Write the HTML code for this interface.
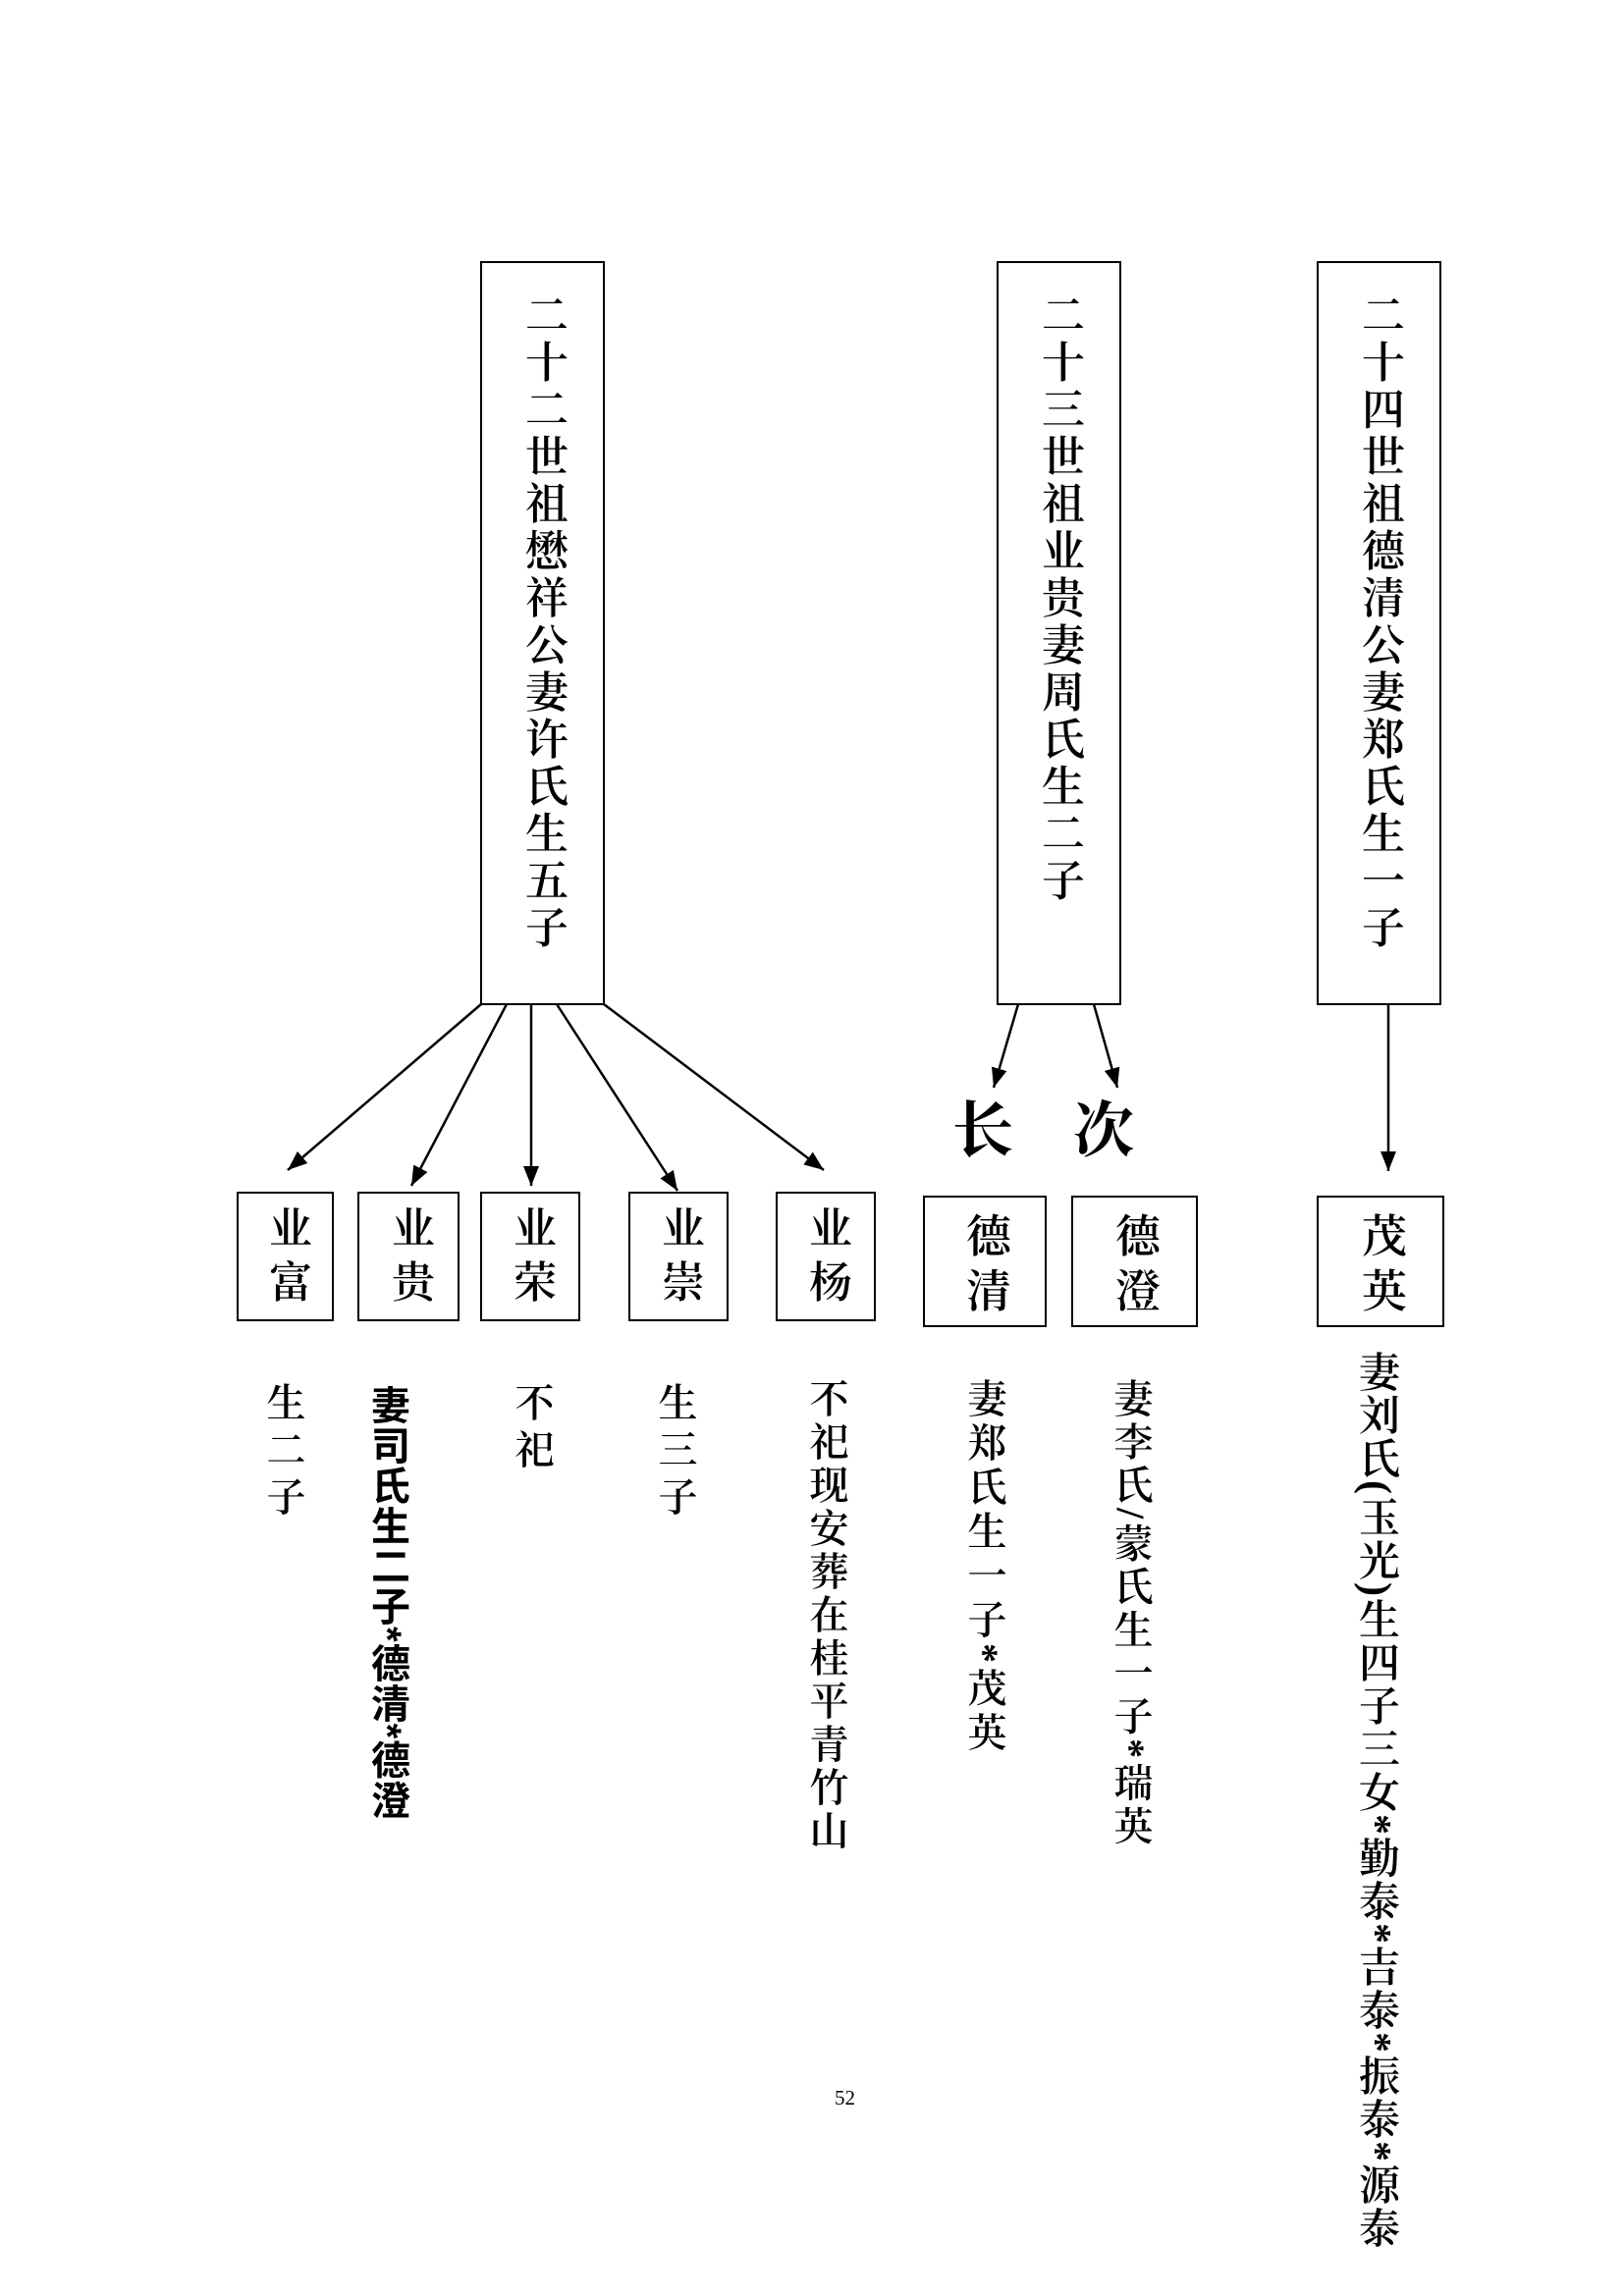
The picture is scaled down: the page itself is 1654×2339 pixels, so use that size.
<!DOCTYPE html>
<html><head><meta charset="utf-8"><style>
html,body{margin:0;padding:0;background:#fff;}
body{width:1654px;height:2339px;position:relative;overflow:hidden;}
.v{position:absolute;writing-mode:vertical-rl;font-family:"Liberation Serif","Noto Serif CJK SC",serif;color:#000;white-space:nowrap;line-height:1;font-weight:600;}
.h{position:absolute;font-family:"Liberation Serif","Noto Serif CJK SC",serif;color:#000;line-height:1;}
</style></head><body>
<svg width="1654" height="2339" style="position:absolute;left:0;top:0">
<defs><marker id="m1" markerWidth="24" markerHeight="24" refX="20" refY="8" orient="auto" markerUnits="userSpaceOnUse"><path d="M0,0 L20,8 L0,16 z" fill="#000"/></marker></defs>
<g fill="none" stroke="#000" stroke-width="2">
<rect x="490" y="267" width="125" height="756"/>
<rect x="1016" y="267" width="125" height="756"/>
<rect x="1342" y="267" width="125" height="756"/>
<rect x="242" y="1215" width="97" height="130"/>
<rect x="365" y="1215" width="102" height="130"/>
<rect x="490" y="1215" width="100" height="130"/>
<rect x="641" y="1215" width="100" height="130"/>
<rect x="791" y="1215" width="100" height="130"/>
<rect x="941" y="1219" width="124" height="132"/>
<rect x="1092" y="1219" width="127" height="132"/>
<rect x="1342" y="1219" width="128" height="132"/>
</g>
<g stroke="#000" stroke-width="2.5" marker-end="url(#m1)">
<line x1="490" y1="1023" x2="293" y2="1192"/>
<line x1="516" y1="1023" x2="419" y2="1208"/>
<line x1="541" y1="1023" x2="541" y2="1208"/>
<line x1="567" y1="1023" x2="690" y2="1213"/>
<line x1="615" y1="1023" x2="839" y2="1192"/>
<line x1="1037" y1="1023" x2="1012" y2="1108"/>
<line x1="1114" y1="1023" x2="1138" y2="1108"/>
<line x1="1414" y1="1023" x2="1414" y2="1193"/>
</g>
</svg>
<div class="v" style="left:530px;top:298px;font-size:44px;letter-spacing:4px">二十二世祖懋祥公妻许氏生五子</div>
<div class="v" style="left:1056px;top:298px;font-size:44px;letter-spacing:4px">二十三世祖业贵妻周氏生二子</div>
<div class="v" style="left:1382px;top:298px;font-size:44px;letter-spacing:4px">二十四世祖德清公妻郑氏生一子</div>
<div class="h" style="left:970px;top:1122px;font-size:62px;font-weight:bold">长</div>
<div class="h" style="left:1093px;top:1122px;font-size:62px;font-weight:bold">次</div>
<div class="v" style="left:269px;top:1228px;font-size:44px;letter-spacing:11px">业富</div>
<div class="v" style="left:394px;top:1228px;font-size:44px;letter-spacing:11px">业贵</div>
<div class="v" style="left:518px;top:1228px;font-size:44px;letter-spacing:11px">业荣</div>
<div class="v" style="left:669px;top:1228px;font-size:44px;letter-spacing:11px">业崇</div>
<div class="v" style="left:819px;top:1228px;font-size:44px;letter-spacing:11px">业杨</div>
<div class="v" style="left:980px;top:1235px;font-size:46px;letter-spacing:10px">德清</div>
<div class="v" style="left:1132px;top:1235px;font-size:46px;letter-spacing:10px">德澄</div>
<div class="v" style="left:1383px;top:1235px;font-size:46px;letter-spacing:10px">茂英</div>
<div class="v" style="left:268px;top:1408px;font-size:40px;letter-spacing:8px">生二子</div>
<div class="v" style="left:374px;top:1411px;font-size:40px;letter-spacing:1px;font-family:'Liberation Sans','Noto Sans CJK SC',sans-serif;font-weight:bold">妻司氏生二子*德清*德澄</div>
<div class="v" style="left:521px;top:1408px;font-size:40px;letter-spacing:8px">不祀</div>
<div class="v" style="left:667px;top:1408px;font-size:40px;letter-spacing:8px">生三子</div>
<div class="v" style="left:821px;top:1404px;font-size:40px;letter-spacing:4px">不祀现安葬在桂平青竹山</div>
<div class="v" style="left:982px;top:1404px;font-size:40px;letter-spacing:5px">妻郑氏生一子*茂英</div>
<div class="v" style="left:1131px;top:1404px;font-size:40px;letter-spacing:4px">妻李氏/蒙氏生一子*瑞英</div>
<div class="v" style="left:1380px;top:1376px;font-size:42px;letter-spacing:2px">妻刘氏(玉光)生四子三女*勤泰*吉泰*振泰*源泰</div>
<div class="h" style="left:850px;top:2127px;font-size:21px">52</div>
</body></html>
